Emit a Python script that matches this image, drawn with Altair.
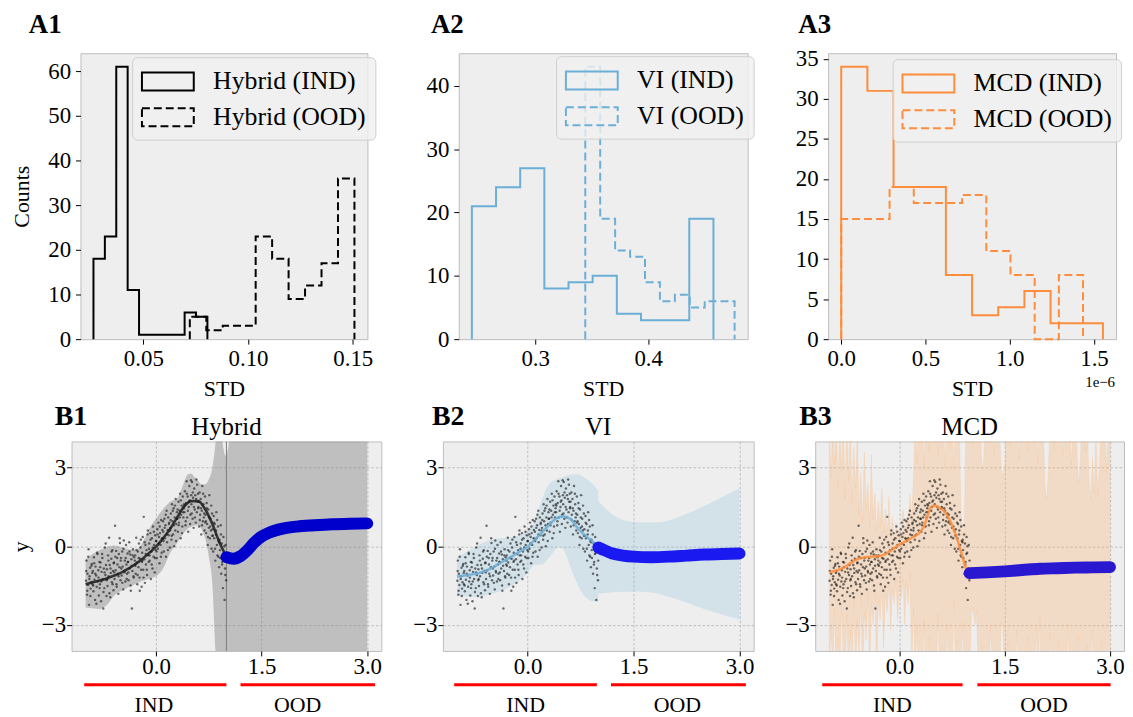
import altair as alt
import numpy as np
import pandas as pd

SERIF = "Liberation Serif"

# ---------------- Row A: histogram counts (10 bins each, histtype step) ----------------
A1_NAMES = ["Hybrid (IND)", "Hybrid (OOD)"]
A1_IND_RANGE = [0.0262, 0.0806]
A1_IND_COUNTS = [18, 23, 61, 11, 1, 1, 1, 1, 6, 5]
A1_OOD_RANGE = [0.0722, 0.1508]
A1_OOD_COUNTS = [5, 2, 3, 3, 23, 18, 9, 12, 17, 36]

A2_NAMES = ["VI (IND)", "VI (OOD)"]
A2_IND_RANGE = [0.2440, 0.4577]
A2_IND_COUNTS = [21, 24, 27, 8, 9, 10, 4, 3, 3, 19]
A2_OOD_RANGE = [0.3443, 0.4764]
A2_OOD_COUNTS = [43, 19, 14, 13, 9, 6, 7, 5, 6, 6]

# MCD std values in units of 1e-6
A3_NAMES = ["MCD (IND)", "MCD (OOD)"]
A3_IND_RANGE = [0.0, 1.553]
A3_IND_COUNTS = [34, 31, 19, 19, 8, 3, 4, 6, 2, 2]
A3_OOD_RANGE = [0.0, 1.435]
A3_OOD_COUNTS = [15, 15, 19, 17, 17, 18, 11, 8, 0, 8]

# ---------------- Row B: training points (shared by the three panels) ----------------
PTS_X = [
    -0.995, -0.988, -0.981, -0.974, -0.966, -0.958, -0.951, -0.944, -0.936, -0.929, -0.921, -0.913, -0.905,
    -0.897, -0.889, -0.882, -0.874, -0.866, -0.859, -0.851, -0.843, -0.836, -0.828, -0.82, -0.812, -0.804,
    -0.797, -0.789, -0.781, -0.773, -0.766, -0.758, -0.75, -0.742, -0.735, -0.727, -0.719, -0.711, -0.704,
    -0.697, -0.689, -0.681, -0.674, -0.666, -0.658, -0.65, -0.643, -0.635, -0.627, -0.62, -0.612, -0.604,
    -0.597, -0.589, -0.582, -0.574, -0.566, -0.558, -0.551, -0.543, -0.535, -0.528, -0.52, -0.512, -0.504,
    -0.497, -0.489, -0.481, -0.474, -0.466, -0.458, -0.45, -0.443, -0.435, -0.427, -0.42, -0.412, -0.404,
    -0.397, -0.389, -0.381, -0.374, -0.366, -0.358, -0.35, -0.343, -0.335, -0.327, -0.32, -0.312, -0.304,
    -0.297, -0.289, -0.281, -0.274, -0.266, -0.258, -0.25, -0.243, -0.235, -0.227, -0.22, -0.212, -0.204,
    -0.197, -0.189, -0.181, -0.174, -0.166, -0.158, -0.15, -0.143, -0.135, -0.127, -0.12, -0.112, -0.104,
    -0.097, -0.089, -0.081, -0.074, -0.066, -0.058, -0.05, -0.043, -0.035, -0.027, -0.02, -0.012, -0.004,
    0.003, 0.011, 0.019, 0.026, 0.034, 0.042, 0.05, 0.057, 0.065, 0.073, 0.08, 0.088, 0.096,
    0.103, 0.111, 0.119, 0.126, 0.134, 0.142, 0.15, 0.157, 0.165, 0.173, 0.18, 0.188, 0.196,
    0.203, 0.211, 0.219, 0.226, 0.234, 0.242, 0.25, 0.257, 0.265, 0.273, 0.28, 0.288, 0.296,
    0.303, 0.311, 0.319, 0.326, 0.334, 0.342, 0.35, 0.357, 0.365, 0.373, 0.38, 0.388, 0.396,
    0.403, 0.411, 0.419, 0.426, 0.434, 0.442, 0.45, 0.457, 0.465, 0.473, 0.48, 0.488, 0.496,
    0.503, 0.511, 0.519, 0.526, 0.534, 0.542, 0.55, 0.557, 0.565, 0.573, 0.58, 0.588, 0.596,
    0.603, 0.611, 0.619, 0.626, 0.634, 0.642, 0.65, 0.657, 0.665, 0.673, 0.68, 0.688, 0.696,
    0.703, 0.711, 0.719, 0.726, 0.734, 0.742, 0.75, 0.757, 0.765, 0.773, 0.78, 0.788, 0.796,
    0.803, 0.811, 0.819, 0.826, 0.834, 0.842, 0.85, 0.857, 0.865, 0.873, 0.88, 0.888, 0.896,
    0.903, 0.911, 0.919, 0.926, 0.934, 0.942, 0.95, 0.957, 0.965, 0.973, 0.98, 0.988, 0.996,
    -0.992, -0.977, -0.962, -0.947, -0.932, -0.917, -0.902,
    -0.893, -0.878, -0.862, -0.847, -0.832, -0.817, -0.801,
    -0.793, -0.777, -0.762, -0.746, -0.731, -0.715, -0.7,
    -0.693, -0.677, -0.662, -0.646, -0.631, -0.616, -0.601,
    -0.593, -0.578, -0.562, -0.547, -0.532, -0.516, -0.501,
    -0.493, -0.478, -0.462, -0.447, -0.431, -0.416, -0.401,
    -0.393, -0.377, -0.362, -0.347, -0.331, -0.316, -0.301,
    -0.293, -0.278, -0.262, -0.247, -0.231, -0.216, -0.2,
    -0.193, -0.178, -0.162, -0.147, -0.131, -0.116, -0.101,
    -0.093, -0.078, -0.062, -0.047, -0.031, -0.016, -0.001,
    0.007, 0.022, 0.038, 0.053, 0.069, 0.084, 0.099,
    0.107, 0.122, 0.138, 0.153, 0.169, 0.184, 0.199,
    0.207, 0.222, 0.238, 0.253, 0.269, 0.284, 0.299,
    0.307, 0.322, 0.338, 0.353, 0.369, 0.384, 0.399,
    0.407, 0.422, 0.438, 0.453, 0.469, 0.484, 0.499,
    0.507, 0.522, 0.538, 0.553, 0.569, 0.584, 0.599,
    0.607, 0.622, 0.638, 0.653, 0.669, 0.684, 0.699,
    0.707, 0.722, 0.738, 0.753, 0.769, 0.784, 0.799,
    0.807, 0.822, 0.838, 0.853, 0.869, 0.884, 0.899,
    0.907, 0.922, 0.938, 0.953, 0.969, 0.984, 0.999,
]
PTS_Y = [
    -1.32, -0.55, -1.85, -1.05, -1.48, -0.12, -2.24, -1.15, -0.82, -1.62, -1.38, -0.68, -1.02,
    -0.95, -1.72, -0.42, -1.28, -2.05, -0.78, -1.12, -1.55, -0.25, -1.35, -0.92, -1.88, -0.6,
    -1.45, -0.62, -2.1, -0.98, -0.3, -1.25, -2.38, -0.85, -1.6, -0.05, -1.1, -0.72, -1.9,
    -0.88, -1.52, -0.35, -1.15, 0.32, -0.72, -1.95, -1.02, -0.48, -1.38, -0.15, -0.95, -1.68,
    -0.62, -1.25, 0.78, -0.92, -0.18, -1.55, -0.45, -1.05, -1.82, -0.3, -0.8, 0.12, -1.3,
    -0.45, -1.12, -0.2, -0.78, -1.65, 0.22, -0.95, -0.55, -1.35, 0.05, -0.7, -1.05, -0.28,
    -0.6, -1.3, 0.15, -0.85, -0.32, -1.7, -0.5, -2.38, -0.95, -0.12, -1.15, -0.42, -0.7,
    -0.35, -1.05, 0.32, -0.62, -1.45, -0.2, -0.8, 0.1, -1.2, -0.48, -0.05, -0.9, -1.55,
    -0.25, 0.35, -0.9, 1.12, -0.5, -1.4, 0.05, -0.7, -0.15, -1.1, 0.45, -0.35, -0.6,
    0.1, -0.55, 0.5, -1.25, -0.2, 0.3, -0.85, 0.75, -0.4, 0.05, -1.0, 0.42, -0.15,
    0.2, -0.45, 0.65, -0.1, 0.9, 0.35, -0.65, 0.5, 0.05, 1.0, -0.25, 0.62, 0.28,
    0.55, -0.2, 1.05, 0.3, 0.8, -0.4, 1.35, 0.15, 0.62, 1.1, 0.42, 0.9, -0.05,
    0.7, 1.25, 0.25, 1.6, 0.95, 0.45, 1.45, 0.0, 1.1, 0.6, 1.8, 0.85, 1.3,
    1.05, 0.55, 1.7, 0.9, 1.35, 2.0, 0.3, 1.2, 1.55, 0.75, 1.9, 1.1, 1.45,
    1.3, 2.1, 0.8, 1.65, 2.48, 1.1, 1.9, 0.55, 1.5, 2.3, 1.75, 1.2, 2.52,
    1.6, 2.45, 1.05, 1.85, 0.7, 2.2, 1.4, 1.95, 0.9, 2.55, 1.3, 1.7, 2.0,
    1.5, 0.75, 2.05, 1.2, 1.8, 0.45, 1.35, 2.3, 0.95, 1.6, 1.1, 0.6, 1.9,
    1.2, 0.5, 1.65, 0.85, 0.05, 1.4, 0.7, 1.95, 0.3, 1.05, 0.6, -0.1, 1.25,
    0.65, -0.2, 1.15, 0.3, 0.85, -0.55, 0.45, 1.3, 0.05, -0.35, 0.75, 0.2, -0.8,
    0.25, -0.45, 0.8, -1.05, 0.1, -0.6, -1.6, 0.35, -0.25, -2.05, -0.85, 0.05, -1.3,
    -0.95, -1.7, -0.4, -1.25, -1.9, -0.75, -1.45,
    -1.5, -0.65, -1.05, -2.2, -0.3, -1.2, -1.6,
    -0.8, -1.35, -0.45, -1.75, -1.0, 0.1, -1.3,
    -1.25, -0.55, -1.8, -0.85, -0.2, -1.45, -0.65,
    -1.0, -0.4, -1.45, -0.7, -1.15, 0.3, -0.55,
    -0.85, -1.4, -0.1, -1.0, -0.45, -1.25, -0.6,
    -1.0, -0.2, -1.5, -0.75, -0.35, -1.2, -0.55,
    -0.75, -0.15, -1.1, -0.45, -1.7, 0.25, -0.6,
    -0.55, -1.2, 0.15, -0.3, -0.9, 0.6, -0.1,
    -0.35, 0.25, -0.7, -0.05, 0.55, -0.45, 0.2,
    -0.2, 0.45, 0.1, 0.75, -0.4, 0.3, 0.95,
    0.2, 0.7, 1.2, 0.45, -0.15, 0.85, 0.6,
    1.0, 0.4, 1.35, 0.8, 1.55, 0.2, 1.05,
    1.4, 0.8, 1.1, 1.75, 0.5, 1.3, 1.6,
    1.55, 0.95, 2.0, 1.35, 1.7, 0.85, 1.95,
    1.25, 2.05, 1.5, 1.1, 1.8, 2.35, 1.45,
    1.7, 1.0, 1.45, 0.8, 2.0, 1.25, 0.9,
    0.95, 1.45, 0.35, 1.1, 0.75, 1.55, 0.4,
    0.4, 0.9, -0.1, 0.6, 1.0, -0.4, 0.15,
    -0.15, 0.45, -0.7, -0.3, 0.0, -1.1, -0.55,
]

MEAN_X = [-1.0, -0.9, -0.8, -0.7, -0.6, -0.5, -0.4, -0.3, -0.2, -0.1, 0.0,
          0.1, 0.2, 0.3, 0.4, 0.5, 0.6, 0.7, 0.8, 0.9, 1.0]

# ---- B1 Hybrid ----
B1_BAND_X = [-1.0, -0.9, -0.8, -0.7, -0.6, -0.5, -0.4, -0.3, -0.2, -0.1, 0.0, 0.1, 0.2, 0.3, 0.4, 0.45,
             0.5, 0.55, 0.6, 0.65, 0.7, 0.75, 0.8, 0.85, 0.9, 0.94, 0.99, 1.04, 1.1, 1.5, 2.0, 2.5, 3.0]
B1_BAND_HI = [-0.5, -0.3, -0.15, -0.03, 0.03, -0.03, -0.12, -0.15, 0.1, 0.65, 1.06, 1.42, 1.70, 1.82, 2.45, 2.75,
              2.78, 2.62, 2.50, 2.36, 2.37, 2.55, 3.0, 4.1, 6.0, 4.1, 3.45, 4.1, 8.0, 9.0, 9.0, 9.0, 9.0]
B1_BAND_LO = [-2.34, -2.37, -2.40, -2.25, -1.90, -1.72, -1.58, -1.45, -1.33, -1.24, -1.15, -0.85, -0.26, 0.12, 0.52, 0.67,
              0.74, 0.79, 0.80, 0.62, 0.28, -0.40, -1.45, -4.2, -6.0, -6.0, -6.0, -6.0, -8.0, -9.0, -9.0, -9.0, -9.0]
B1_MEAN_Y = [-1.45, -1.38, -1.31, -1.23, -1.13, -1.02, -0.87, -0.70, -0.50, -0.26, -0.02,
             0.30, 0.66, 1.10, 1.52, 1.72, 1.72, 1.40, 0.85, 0.15, -0.40]
B1_OOD_X = [1.0, 1.1, 1.2, 1.3, 1.4, 1.5, 1.6, 1.8, 2.0, 2.25, 2.5, 2.75, 3.0]
B1_OOD_Y = [-0.42, -0.48, -0.38, -0.15, 0.15, 0.37, 0.51, 0.67, 0.75, 0.80, 0.84, 0.86, 0.87]

# ---- B2 VI ----
B2_IND_BAND_X = [-1.0, -0.9, -0.8, -0.7, -0.6, -0.5, -0.4, -0.3, -0.2, -0.1, 0.0, 0.1, 0.2, 0.3, 0.4, 0.45,
                 0.5, 0.55, 0.6, 0.7, 0.8, 0.9, 1.0]
B2_IND_BAND_HI = [-0.43, -0.28, -0.12, 0.04, 0.17, 0.26, 0.30, 0.32, 0.36, 0.45, 0.62, 0.98, 1.76, 2.36, 2.55, 2.60,
                  2.64, 2.69, 2.73, 2.75, 2.62, 2.42, 2.12]
B2_IND_BAND_LO = [-1.88, -1.91, -1.94, -1.93, -1.88, -1.82, -1.73, -1.62, -1.47, -1.28, -1.02, -0.72, -0.70, -0.45, -0.12, -0.03,
                  -0.10, -0.38, -0.75, -1.42, -1.88, -2.08, -2.13]
B2_OOD_BAND_X = [1.0, 1.25, 1.5, 1.75, 2.0, 2.25, 2.5, 2.75, 3.0]
B2_OOD_BAND_HI = [1.72, 1.12, 0.92, 0.90, 0.98, 1.24, 1.53, 1.87, 2.20]
B2_OOD_BAND_LO = [-1.82, -1.75, -1.73, -1.77, -1.93, -2.15, -2.40, -2.61, -2.80]
B2_MEAN_Y = [-1.17, -1.12, -1.08, -1.03, -0.95, -0.82, -0.66, -0.50, -0.35, -0.18, -0.03,
             0.25, 0.52, 0.80, 1.05, 1.14, 1.05, 0.72, 0.44, 0.22, 0.01]
B2_OOD_X = [1.0, 1.1, 1.2, 1.35, 1.5, 1.75, 2.0, 2.25, 2.5, 2.75, 3.0]
B2_OOD_Y = [-0.05, -0.17, -0.28, -0.36, -0.40, -0.42, -0.40, -0.36, -0.32, -0.30, -0.28]

# ---- B3 MCD ----
B3_BAND_X = [
    -1.0, -0.975, -0.95, -0.925, -0.9, -0.875, -0.85, -0.825, -0.8, -0.775, -0.75, -0.725, -0.7, -0.675, -0.65, -0.625,
    -0.6, -0.575, -0.55, -0.525, -0.5, -0.475, -0.45, -0.425, -0.4, -0.375, -0.35, -0.325, -0.3, -0.275, -0.25, -0.225,
    -0.2, -0.175, -0.15, -0.125, -0.1, -0.075, -0.05, -0.025, 0.0, 0.025, 0.05, 0.075, 0.1, 0.125, 0.15, 0.175,
    0.2, 0.225, 0.25, 0.275, 0.3, 0.325, 0.35, 0.375, 0.4, 0.425, 0.45, 0.475, 0.5, 0.525, 0.55, 0.575,
    0.6, 0.625, 0.65, 0.675, 0.7, 0.725, 0.75, 0.775, 0.8, 0.825, 0.85, 0.875, 0.9, 0.925, 0.95, 0.975,
    1.0, 1.025, 1.05, 1.075, 1.1, 1.125, 1.15, 1.175, 1.2, 1.225, 1.25, 1.275, 1.3, 1.325, 1.35, 1.375,
    1.4, 1.425, 1.45, 1.475, 1.5, 1.525, 1.55, 1.575, 1.6, 1.625, 1.65, 1.675, 1.7, 1.725, 1.75, 1.775,
    1.8, 1.825, 1.85, 1.875, 1.9, 1.925, 1.95, 1.975, 2.0, 2.025, 2.05, 2.075, 2.1, 2.125, 2.15, 2.175,
    2.2, 2.225, 2.25, 2.275, 2.3, 2.325, 2.35, 2.375, 2.4, 2.425, 2.45, 2.475, 2.5, 2.525, 2.55, 2.575,
    2.6, 2.625, 2.65, 2.675, 2.7, 2.725, 2.75, 2.775, 2.8, 2.825, 2.85, 2.875, 2.9, 2.925, 2.95, 2.975, 3.0,
]
B3_BAND_HI = [
    5.0, 2.6, 5.0, 3.1, 5.0, 2.2, 4.6, 2.9, 5.0, 1.8, 4.8, 2.5, 5.0, 1.6, 3.8, 2.2,
    4.5, 1.2, 2.8, 0.9, 3.6, 1.5, 2.4, 0.8, 3.5, 1.0, 2.0, 0.6, 1.7, 0.7, 2.2, 0.5,
    1.4, 0.4, 1.9, 0.3, 1.1, 0.2, 0.9, 0.3, 0.6, 0.5, 1.4, 0.6, 1.0, 0.9, 2.0, 1.0,
    2.6, 5.0, 3.2, 5.0, 4.0, 5.0, 3.0, 5.0, 5.0, 3.6, 5.0, 4.2, 5.0, 5.0, 3.4, 5.0,
    4.5, 5.0, 3.0, 5.0, 5.0, 3.8, 5.0, 2.9, 5.0, 4.4, 5.0, 1.5, 0.4, 0.8, 5.0, 4.0,
    5.0, 5.0, 3.9, 5.0, 5.0, 4.2, 5.0, 2.9, 3.2, 5.0, 5.0, 4.0, 5.0, 5.0, 3.5, 5.0,
    5.0, 4.4, 3.0, 2.6, 3.1, 5.0, 5.0, 3.8, 5.0, 5.0, 4.1, 5.0, 3.3, 5.0, 5.0, 4.5,
    5.0, 3.6, 5.0, 5.0, 4.0, 5.0, 5.0, 3.2, 5.0, 5.0, 4.3, 2.2, 1.8, 3.0, 5.0, 5.0,
    3.7, 5.0, 5.0, 4.2, 5.0, 3.4, 5.0, 5.0, 4.6, 5.0, 3.1, 5.0, 5.0, 4.0, 2.4, 3.0,
    5.0, 5.0, 3.6, 5.0, 2.5, 1.8, 3.4, 2.0, 4.4, 1.9, 3.0, 5.0, 4.0, 5.0, 2.8, 5.0, 5.0,
]
B3_BAND_LO = [
    -5.0, -3.0, -5.0, -2.4, -5.0, -3.5, -5.0, -2.2, -4.4, -5.0, -2.6, -5.0, -3.2, -5.0, -2.0, -5.0,
    -2.8, -4.2, -1.9, -5.0, -2.5, -3.6, -1.8, -4.8, -2.2, -3.0, -1.7, -5.0, -2.0, -2.8, -1.6, -3.9,
    -1.8, -2.5, -1.4, -3.2, -1.6, -2.2, -1.3, -2.8, -1.5, -2.0, -1.2, -3.0, -1.4, -2.2, -1.0, -5.0,
    -2.4, -5.0, -3.0, -5.0, -4.0, -5.0, -2.8, -5.0, -5.0, -3.5, -5.0, -4.2, -5.0, -5.0, -2.6, -5.0,
    -3.8, -5.0, -5.0, -3.0, -5.0, -4.4, -5.0, -2.0, -5.0, -3.6, -5.0, -5.0, -2.9, -5.0, -5.0, -4.0,
    -5.0, -2.6, -2.4, -3.0, -2.5, -5.0, -5.0, -3.8, -5.0, -5.0, -4.2, -5.0, -3.0, -5.0, -5.0, -4.1,
    -5.0, -5.0, -2.9, -3.1, -5.0, -5.0, -3.7, -5.0, -5.0, -4.3, -5.0, -3.2, -5.0, -5.0, -4.0, -5.0,
    -5.0, -3.5, -5.0, -5.0, -4.6, -5.0, -3.0, -5.0, -2.7, -5.0, -5.0, -4.0, -5.0, -5.0, -3.3, -5.0,
    -5.0, -4.4, -5.0, -3.6, -5.0, -5.0, -4.0, -5.0, -3.0, -5.0, -5.0, -4.5, -5.0, -5.0, -3.4, -5.0,
    -5.0, -4.1, -5.0, -3.8, -5.0, -5.0, -3.2, -5.0, -5.0, -4.4, -5.0, -3.6, -5.0, -5.0, -4.0, -5.0, -5.0,
]
B3_MEAN_X = [-1.0, -0.9, -0.8, -0.7, -0.6, -0.5, -0.4, -0.3, -0.2, -0.1, 0.0, 0.1, 0.2, 0.3, 0.35,
             0.4, 0.45, 0.5, 0.55, 0.6, 0.65, 0.7, 0.75, 0.8, 0.85, 0.9, 0.95, 1.0]
B3_MEAN_Y = [-1.0, -0.93, -0.83, -0.65, -0.49, -0.43, -0.40, -0.38, -0.30, -0.12, 0.06, 0.20, 0.36, 0.55, 0.77,
             1.15, 1.50, 1.55, 1.50, 1.42, 1.30, 1.08, 0.80, 0.45, 0.03, -0.42, -0.85, -1.0]
B3_OOD_X = [1.0, 1.25, 1.5, 1.75, 2.0, 2.25, 2.5, 2.75, 3.0]
B3_OOD_Y = [-1.03, -1.0, -0.96, -0.91, -0.86, -0.84, -0.82, -0.81, -0.80]

# IND / OOD bracket annotations under each bottom panel (x extents, label centres)
SEG_LABELS = ["IND", "OOD"]
B1_SEGS = [[-1.02, 1.00], [1.20, 3.11]]
B1_LABEL_X = [-0.03, 2.01]
B2_SEGS = [[-1.04, 0.98], [1.18, 3.09]]
B2_LABEL_X = [-0.03, 2.12]
B3_SEGS = [[-1.10, 0.90], [1.11, 3.01]]
B3_LABEL_X = [-0.10, 2.06]

# ---------------------------------------------------------------------------
PANEL_BG = alt.ViewBackground(fill="#eeeeee", stroke="#bcbcbc", strokeWidth=1)
AX = dict(labelFont=SERIF, labelFontSize=23, labelColor="black", titleFont=SERIF, titleFontSize=22,
          titleFontWeight="normal", titleColor="black", tickColor="black", tickWidth=1, tickSize=5,
          domain=False, labelFlush=False, labelOverlap=False)


def text_layer(txt, x, y, size, weight="normal", align="left"):
    return alt.Chart(pd.DataFrame({"t": [txt]})).mark_text(
        align=align, baseline="alphabetic", font=SERIF, fontSize=size, fontWeight=weight, color="black"
    ).encode(text="t:N", x=alt.value(x), y=alt.value(y))


def left_anchor(x):
    # invisible zero-width guide that fixes the left edge of a row's bounding box
    return alt.Chart(pd.DataFrame({"v": [0]})).mark_rule(strokeOpacity=0, strokeWidth=1).encode(
        x=alt.value(x), x2=alt.value(x + 1), y=alt.value(100))


def spacer(w, h):
    return alt.Chart(pd.DataFrame({"v": [0]})).mark_point(opacity=0).encode(
        x=alt.value(0), y=alt.value(0)).properties(width=w, height=h)


def hist_df(rng, counts, label):
    edges = np.linspace(rng[0], rng[1], len(counts) + 1)
    xs, ys = [edges[0]], [0]
    for k, c in enumerate(counts):
        xs += [edges[k], edges[k + 1]]
        ys += [c, c]
    xs.append(edges[-1])
    ys.append(0)
    return pd.DataFrame({"x": xs, "y": ys, "i": list(range(len(xs))), "series": label})


def hist_panel(ind, ood, names, color, xdom, ydom, xticks, xfmt, yticks, ytitle, leg_xy, tag, tag_dx):
    df = pd.concat([hist_df(ind[0], ind[1], names[0]), hist_df(ood[0], ood[1], names[1])])
    xax = alt.Axis(values=xticks, format=xfmt, title="STD", labelPadding=4, titlePadding=8, grid=False, **AX)
    yax = alt.Axis(values=yticks, format="d", title=ytitle, labelPadding=5, titlePadding=14, grid=False, **AX)
    legend = alt.Legend(
        orient="none", legendX=leg_xy[0], legendY=leg_xy[1], title=None,
        symbolType="M-1.8,-0.63H1.8V0.63H-1.8Z", symbolSize=841, symbolStrokeWidth=2,
        symbolFillColor="transparent", symbolOffset=11.5, labelOffset=30,
        labelFont=SERIF, labelFontSize=26, labelColor="black", labelLimit=400,
        padding=9, rowPadding=7, fillColor="rgba(240,240,240,0.8)", strokeColor="#cfcfcf", cornerRadius=5,
    )
    lines = alt.Chart(df).mark_line(color=color, strokeWidth=2, strokeJoin="miter").encode(
        x=alt.X("x:Q", scale=alt.Scale(domain=xdom, nice=False, zero=False), axis=xax),
        y=alt.Y("y:Q", scale=alt.Scale(domain=ydom, nice=False, zero=False), axis=yax),
        order="i:Q",
        strokeDash=alt.StrokeDash("series:N", scale=alt.Scale(domain=names, range=[[1, 0], [8, 4]]), legend=legend),
    )
    return [lines, text_layer(tag, tag_dx, -20, 27, "bold")]


def b_panel(parts, interp, area_style, mean_x, mean_y, mean_color, ood_x, ood_y, blue, title, tag, tag_dx,
            ytitle, segs, lab_x, w, h, vline=None, anchor=None):
    xs = alt.Scale(domain=[-1.2, 3.2], nice=False, zero=False)
    ys = alt.Scale(domain=[-4, 4], nice=False, zero=False)
    grid = dict(grid=True, gridColor="#b2b2b2", gridDash=[2.5, 2], gridWidth=0.8)
    xax = alt.Axis(values=[0.0, 1.5, 3.0], format=".1f", title=None, labelPadding=0, **grid, **AX)
    yax = alt.Axis(values=[-3, 0, 3], format="d", title=ytitle, labelPadding=1, titlePadding=9, **grid, **AX)

    def X(f):
        return alt.X(f, type="quantitative", scale=xs, axis=xax)

    def Y(f):
        return alt.Y(f, type="quantitative", scale=ys, axis=yax)

    band = pd.concat([pd.DataFrame({"x": p[0], "hi": p[1], "lo": p[2], "seg": k}) for k, p in enumerate(parts)])
    layers = [alt.Chart(band).mark_area(clip=True, interpolate=interp, **area_style).encode(
        x=X("x"), y=Y("hi"), y2=alt.Y2("lo"), detail="seg:N")]
    if vline is not None:
        layers.append(alt.Chart(pd.DataFrame({"x": [vline]})).mark_rule(color="#7a7a7a", strokeWidth=1).encode(x=X("x")))
    layers.append(alt.Chart(pd.DataFrame({"x": PTS_X, "y": PTS_Y})).mark_circle(
        size=6, color="#111111", opacity=0.6).encode(x=X("x"), y=Y("y")))
    layers.append(alt.Chart(pd.DataFrame({"x": mean_x, "y": mean_y})).mark_line(
        color=mean_color, strokeWidth=2.6, opacity=0.85, interpolate="monotone").encode(x=X("x"), y=Y("y")))
    layers.append(alt.Chart(pd.DataFrame({"x": ood_x, "y": ood_y})).mark_line(
        color=blue, strokeWidth=12, strokeCap="round", strokeJoin="round", interpolate="monotone").encode(
        x=X("x"), y=Y("y")))
    seg_df = pd.DataFrame({"x0": [s[0] for s in segs], "x1": [s[1] for s in segs],
                           "xc": lab_x, "lab": SEG_LABELS})
    layers.append(alt.Chart(seg_df).mark_rule(color="#ff0000", strokeWidth=3).encode(
        x=X("x0"), x2=alt.X2("x1"), y=alt.value(h + 34)))
    layers.append(alt.Chart(seg_df).mark_text(font=SERIF, fontSize=22, align="center", baseline="alphabetic",
                                              color="black").encode(
        x=X("xc"), y=alt.value(h + 61), text="lab:N"))
    layers.append(text_layer(title, w / 2, -6, 25, align="center"))
    layers.append(text_layer(tag, tag_dx, -17, 28, "bold"))
    if anchor is not None:
        layers.append(left_anchor(anchor))
    return alt.layer(*layers).properties(width=w, height=h, view=PANEL_BG)


HA = 288
HB = 211

a1_layers = hist_panel((A1_IND_RANGE, A1_IND_COUNTS), (A1_OOD_RANGE, A1_OOD_COUNTS), A1_NAMES, "#000000",
                       [0.0200, 0.1570], [0, 64.05], [0.05, 0.10, 0.15], ".2f", [0, 10, 20, 30, 40, 50, 60],
                       "Counts", (52, 4), "A1", -52)
a1_layers.append(left_anchor(-72))
a1 = alt.layer(*a1_layers).properties(width=289, height=HA, view=PANEL_BG)
a2 = alt.layer(*hist_panel((A2_IND_RANGE, A2_IND_COUNTS), (A2_OOD_RANGE, A2_OOD_COUNTS), A2_NAMES, "#6baed6",
                           [0.2324, 0.4880], [0, 45.15], [0.3, 0.4], ".1f", [0, 10, 20, 30, 40],
                           None, (98, 3), "A2", -28)).properties(width=291, height=HA, view=PANEL_BG)
a3_layers = hist_panel((A3_IND_RANGE, A3_IND_COUNTS), (A3_OOD_RANGE, A3_OOD_COUNTS), A3_NAMES, "#fd8d3c",
                       [-0.0777, 1.631], [0, 35.7], [0.0, 0.5, 1.0, 1.5], ".1f", [0, 5, 10, 15, 20, 25, 30, 35],
                       None, (65, 6), "A3", -30)
a3_layers.append(text_layer("1e\u22126", 289, HA + 48, 15, align="right"))
a3 = alt.layer(*a3_layers).properties(width=290, height=HA, view=PANEL_BG)

b1 = b_panel([(B1_BAND_X, B1_BAND_HI, B1_BAND_LO)], "monotone", dict(color="#7f7f7f", opacity=0.42),
             MEAN_X, B1_MEAN_Y, "#1a1a1a", B1_OOD_X, B1_OOD_Y, "#0000cc", "Hybrid", "B1", -17, "y",
             B1_SEGS, B1_LABEL_X, 312, HB, vline=1.0, anchor=-63)
b2 = b_panel([(B2_IND_BAND_X, B2_IND_BAND_HI, B2_IND_BAND_LO), (B2_OOD_BAND_X, B2_OOD_BAND_HI, B2_OOD_BAND_LO)],
             "monotone", dict(color="#6baed6", opacity=0.2),
             MEAN_X, B2_MEAN_Y, "#6baed6", B2_OOD_X, B2_OOD_Y, "#1a1af0", "VI", "B2", -11, None,
             B2_SEGS, B2_LABEL_X, 313, HB)
b3 = b_panel([(B3_BAND_X, B3_BAND_HI, B3_BAND_LO)], "linear",
             dict(fill="#fdae6b", fillOpacity=0.3, stroke="#fdae6b", strokeOpacity=0.3, strokeWidth=0.6),
             B3_MEAN_X, B3_MEAN_Y, "#fd8d3c", B3_OOD_X, B3_OOD_Y, "#2a18d0", "MCD", "B3", -16, None,
             B3_SEGS, B3_LABEL_X, 311, HB)

top = alt.hconcat(spacer(9, HA), a1, spacer(92, HA), a2, spacer(81, HA), a3, spacing=0, bounds="flush").resolve_scale(
    strokeDash="independent").resolve_legend(strokeDash="independent")
bottom = alt.hconcat(b1, spacer(62, HB), b2, spacer(62, HB), b3, spacing=0, bounds="flush")

chart = alt.vconcat(top, bottom, spacing=1).properties(
    padding={"left": 0, "top": 0, "right": 0, "bottom": 0}
).resolve_scale(strokeDash="independent").resolve_legend(strokeDash="independent").configure(
    font=SERIF).configure_view(stroke="transparent")

chart.save("out.html", embed_options={"renderer": "svg", "actions": False})
